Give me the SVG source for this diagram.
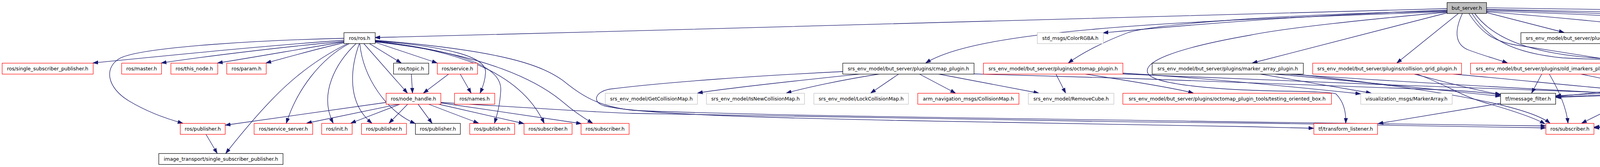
<svg xmlns="http://www.w3.org/2000/svg" width="6444" height="427" viewBox="0 0 6444 427">
<style>
rect{stroke-width:1.2}
.r{fill:#fff;stroke:#ff0000}
.b{fill:#fff;stroke:#000}
.g{fill:#fff;stroke:#bfbfbf}
.root{fill:#bfbfbf;stroke:#000}
text{font-family:"DejaVu Sans","Liberation Sans",sans-serif;font-size:12.6px;fill:#000;text-anchor:middle}
#edges path{fill:none;stroke:#191970;stroke-width:1.3;marker-end:url(#ah)}
</style>
<defs>
<marker id="ah" markerWidth="14" markerHeight="10" refX="13" refY="5" orient="auto" markerUnits="userSpaceOnUse"><path d="M0,0.5 L13,5 L0,9.5 z" fill="#191970" stroke="#191970" stroke-width="1"/></marker>
</defs>
<rect width="6444" height="427" fill="#fff"/>
<g id="edges">
<!-- from but_server.h -->
<path d="M3704,22 C2900,45 1900,72 960,96"/>
<path d="M3704,26 C3300,40 3000,68 2824,84"/>
<path d="M3704,30 C2950,55 2500,80 2370,161"/>
<path d="M3704,28 C3300,36 2960,60 2886,84 C2830,105 2770,135 2735,161"/>
<path d="M3704,33 L3206,161"/>
<path d="M3704,31 C3500,50 3300,70 3200,90 C3000,125 2920,160 2940,190 C2960,215 3100,228 3240,232 C3330,234 3400,234 3420,240 C3442,262 3446,290 3445,315"/>
<path d="M3734,34 L3576,161"/>
<path d="M3744,34 C3722,80 3725,115 3760,128 C3800,143 3835,152 3859,161"/>
<path d="M3760,34 C3790,80 3820,105 3880,115 C3980,130 4100,150 4172,161"/>
<path d="M3768,34 C3810,100 3870,135 4000,148 C4200,158 4400,158 4539,162"/>
<path d="M3775,34 C3830,110 3950,145 4150,152 C4500,157 4800,158 4958,162"/>
<path d="M3805,32 L4004,83"/>
<path d="M3805,30 C4000,45 4250,70 4342,83"/>
<path d="M3805,28 C4200,40 4550,65 4718,84"/>
<path d="M3805,25 C4300,40 4800,60 4977,84"/>
<path d="M3805,24 C4400,35 5000,55 5222,84"/>
<path d="M3805,20 C4600,30 5560,55 5690,82 C5708,110 5698,140 5683,161"/>
<!-- from ros/ros.h -->
<path d="M880,98 C700,102 360,118 305,150 C265,175 275,225 330,258 C370,282 420,302 468,315"/>
<path d="M880,103 C700,115 450,140 238,161"/>
<path d="M880,106 C720,120 520,145 413,161"/>
<path d="M881,107 C770,125 630,150 557,161"/>
<path d="M882,109 C810,125 730,148 681,161"/>
<path d="M891,111 C770,170 690,250 578,392"/>
<path d="M895,111 C820,150 760,230 733,315"/>
<path d="M912,111 C860,160 815,240 853,315"/>
<path d="M920,111 C895,180 890,265 952,315"/>
<path d="M921,111 C930,200 990,285 1063,316"/>
<path d="M931,111 L1043,238"/>
<path d="M945,111 L1027,161"/>
<path d="M960,108 L1119,161"/>
<path d="M960,104 C1150,120 1245,145 1243,185 C1242,208 1235,225 1229,238"/>
<path d="M960,105 C1160,128 1285,165 1282,230 C1280,270 1272,295 1266,315"/>
<path d="M960,106 C1200,130 1340,200 1393,315"/>
<path d="M960,107 C1250,138 1380,210 1440,260 C1475,290 1500,305 1517,315"/>
<path d="M960,103 C1300,130 1390,170 1440,205 C1490,245 1530,272 1620,282 C1900,295 2600,303 3200,312 C3600,317 3850,320 3957,322"/>
<!-- ros internals -->
<path d="M1053,189 L1056,238"/>
<path d="M1149,189 L1084,238"/>
<path d="M1178,189 L1206,238"/>
<path d="M988,262 L577,320"/>
<path d="M1022,266 L785,315"/>
<path d="M1025,266 L898,315"/>
<path d="M1044,266 L996,315"/>
<path d="M1070,266 L1106,315"/>
<path d="M1096,266 L1225,315"/>
<path d="M1121,266 L1341,316"/>
<path d="M1128,263 L1488,316"/>
<path d="M1128,262 C1350,275 1500,286 1620,290 C2000,300 2700,310 3300,316 C3600,320 3850,325 3957,327"/>
<path d="M527,343 L556,392"/>
<!-- cmap_plugin -->
<path d="M2157,183 C1950,193 1700,210 1560,228 C1520,236 1518,262 1545,270 C1620,290 1900,300 2300,308 L3200,324 C3290,326 3340,327 3363,328"/>
<path d="M2205,189 C2100,200 1860,225 1786,238"/>
<path d="M2253,189 C2150,205 2060,225 2013,238"/>
<path d="M2301,189 L2229,238"/>
<path d="M2353,189 L2446,238"/>
<path d="M2401,189 L2659,238"/>
<path d="M2493,189 C2900,200 3400,216 3700,230 C3780,234 3815,238 3841,243"/>
<!-- octomap_plugin -->
<path d="M2703,189 L2728,238"/>
<path d="M2776,189 C2900,208 3010,226 3055,238"/>
<path d="M2874,187 C3100,200 3350,226 3483,240"/>
<path d="M2870,189 C3300,208 3900,230 4303,244"/>
<!-- marker_array_plugin -->
<path d="M3224,189 L3510,238"/>
<path d="M3290,189 C3600,210 4000,232 4303,247"/>
<path d="M3310,189 C3600,220 3900,262 3968,315"/>
<path d="M3260,189 C3500,210 3700,232 3841,246"/>
<!-- collision_grid_plugin -->
<path d="M3619,189 C3700,210 3790,234 3841,241"/>
<path d="M3626,189 C3700,215 3740,245 3800,262 C3880,285 3935,305 3955,317"/>
<path d="M3715,189 C3900,205 4100,228 4303,242"/>
<!-- old_imarkers -->
<path d="M3947,189 L3921,238"/>
<path d="M3966,189 C3990,230 4010,275 4014,315"/>
<path d="M4045,189 C4150,210 4250,235 4303,245"/>
<path d="M3842,264 L3528,316"/>
<!-- objtree -->
<path d="M4361,189 L4420,238"/>
<path d="M4312,189 C4220,230 4110,285 4049,315"/>
<!-- collision_object -->
<path d="M4682,189 C4610,210 4540,226 4506,238"/>
<path d="M4720,189 C4660,240 4560,280 4400,297 C4250,312 4150,321 4081,325"/>
<path d="M4585,189 C4300,212 4100,236 3983,247"/>
<!-- imarkers -->
<path d="M5010,189 C4800,214 4650,236 4588,244"/>
<path d="M5068,189 C4800,240 4500,292 4320,306 C4200,316 4130,323 4081,327"/>
<path d="M5040,189 C4700,205 4300,226 3983,245"/>
<!-- loops from example / limited -->
<path d="M4248,111 C4500,118 5000,132 5295,150 C5340,160 5340,188 5300,197 C5100,216 4800,233 4588,246"/>
<path d="M4694,112 C4900,120 5200,133 5345,152 C5385,162 5385,186 5345,197 C5000,226 4400,233 3983,249"/>
<path d="M4690,114 C4900,125 5200,146 5400,157 L5488,163"/>
<!-- compressed -->
<path d="M5491,111 L5631,161"/>
<path d="M5445,111 C5430,150 5405,182 5360,193 C5000,220 4700,238 4588,247"/>
<!-- point_cloud_plugin -->
<path d="M5569,189 C5450,205 5300,226 5220,238"/>
<path d="M5624,189 L5459,238"/>
<path d="M5674,189 L5674,238"/>
<path d="M5737,189 L5947,238"/>
<path d="M5793,189 L6212,239"/>
<path d="M5488,183 C5200,196 4800,226 4588,245"/>
<path d="M5488,186 C5000,205 4400,228 3983,248"/>
<path d="M5488,189 C5100,232 4600,296 4081,327"/>
</g>
<!-- row 0 -->
<g id="n_but_server"><rect class="root" x="3704.5" y="6.5" width="101" height="28"/><text x="3755" y="25">but_server.h</text></g>
<!-- row 1 -->
<g id="n_ros"><rect class="b" x="880.5" y="83.5" width="80" height="28"/><text x="920.5" y="102">ros/ros.h</text></g>
<g id="n_colorrgba"><rect class="g" x="2655.5" y="83.5" width="169" height="28"/><text x="2740" y="102">std_msgs/ColorRGBA.h</text></g>
<g id="n_example"><rect class="b" x="3893.5" y="83.5" width="355" height="28"/><text x="4071" y="102">srs_env_model/but_server/plugins/example_plugin.h</text></g>
<g id="n_limited"><rect class="r" x="4271.5" y="83.5" width="423" height="28"/><text x="4483" y="102">srs_env_model/but_server/plugins/limited_point_cloud_plugin.h</text></g>
<g id="n_pause"><rect class="g" x="4716.5" y="83.5" width="236" height="28"/><text x="4834.5" y="102">srs_env_model/ButServerPause.h</text></g>
<g id="n_useinput"><rect class="g" x="4975.5" y="83.5" width="223" height="28"/><text x="5087" y="102">srs_env_model/UseInputColor.h</text></g>
<g id="n_compressed"><rect class="r" x="5221.5" y="83.5" width="459" height="28"/><text x="5451" y="102">srs_env_model/but_server/plugins/compressed_point_cloud_plugin.h</text></g>
<!-- row 2 -->
<g id="n_ssp"><rect class="r" x="5.5" y="161.5" width="233" height="28"/><text x="122" y="180">ros/single_subscriber_publisher.h</text></g>
<g id="n_master"><rect class="r" x="311.5" y="161.5" width="102" height="28"/><text x="362.5" y="180">ros/master.h</text></g>
<g id="n_this_node"><rect class="r" x="437.5" y="161.5" width="120" height="28"/><text x="497.5" y="180">ros/this_node.h</text></g>
<g id="n_param"><rect class="r" x="580.5" y="161.5" width="101" height="28"/><text x="631" y="180">ros/param.h</text></g>
<g id="n_topic"><rect class="b" x="1007.5" y="161.5" width="90" height="28"/><text x="1052.5" y="180">ros/topic.h</text></g>
<g id="n_service"><rect class="r" x="1119.5" y="161.5" width="103" height="28"/><text x="1171" y="180">ros/service.h</text></g>
<g id="n_cmap"><rect class="b" x="2157.5" y="161.5" width="336" height="28"/><text x="2325.5" y="180">srs_env_model/but_server/plugins/cmap_plugin.h</text></g>
<g id="n_octomap"><rect class="r" x="2517.5" y="161.5" width="357" height="28"/><text x="2696" y="180">srs_env_model/but_server/plugins/octomap_plugin.h</text></g>
<g id="n_marker_array"><rect class="b" x="2949.5" y="161.5" width="387" height="28"/><text x="3143" y="180">srs_env_model/but_server/plugins/marker_array_plugin.h</text></g>
<g id="n_collision_grid"><rect class="r" x="3360.5" y="161.5" width="381" height="28"/><text x="3551" y="180">srs_env_model/but_server/plugins/collision_grid_plugin.h</text></g>
<g id="n_old_imarkers"><rect class="r" x="3764.5" y="161.5" width="384" height="28"/><text x="3956.5" y="180">srs_env_model/but_server/plugins/old_imarkers_plugin.h</text></g>
<g id="n_objtree"><rect class="r" x="4169.5" y="161.5" width="346" height="28"/><text x="4342.5" y="180">srs_env_model/but_server/plugins/objtree_plugin.h</text></g>
<g id="n_collision_object"><rect class="r" x="4538.5" y="161.5" width="396" height="28"/><text x="4736.5" y="180">srs_env_model/but_server/plugins/collision_object_plugin.h</text></g>
<g id="n_imarkers"><rect class="r" x="4957.5" y="161.5" width="355" height="28"/><text x="5135" y="180">srs_env_model/but_server/plugins/imarkers_plugin.h</text></g>
<g id="n_point_cloud"><rect class="b" x="5488.5" y="161.5" width="374" height="28"/><text x="5675.5" y="180">srs_env_model/but_server/plugins/point_cloud_plugin.h</text></g>
<!-- row 3 -->
<g id="n_node_handle"><rect class="r" x="988.5" y="238.5" width="140" height="28"/><text x="1058.5" y="257">ros/node_handle.h</text></g>
<g id="n_names"><rect class="r" x="1163.5" y="238.5" width="103" height="28"/><text x="1215" y="257">ros/names.h</text></g>
<g id="n_getcm"><rect class="g" x="1549.5" y="238.5" width="236" height="28"/><text x="1667.5" y="257">srs_env_model/GetCollisionMap.h</text></g>
<g id="n_isnewcm"><rect class="g" x="1808.5" y="238.5" width="251" height="28"/><text x="1934" y="257">srs_env_model/IsNewCollisionMap.h</text></g>
<g id="n_lockcm"><rect class="g" x="2083.5" y="238.5" width="242" height="28"/><text x="2204.5" y="257">srs_env_model/LockCollisionMap.h</text></g>
<g id="n_armcm"><rect class="r" x="2349.5" y="238.5" width="259" height="28"/><text x="2479" y="257">arm_navigation_msgs/CollisionMap.h</text></g>
<g id="n_removecube"><rect class="g" x="2632.5" y="238.5" width="219" height="28"/><text x="2742" y="257">srs_env_model/RemoveCube.h</text></g>
<g id="n_tob"><rect class="r" x="2874.5" y="238.5" width="534" height="28"/><text x="3141.5" y="257">srs_env_model/but_server/plugins/octomap_plugin_tools/testing_oriented_box.h</text></g>
<g id="n_vis_marker"><rect class="g" x="3483.5" y="238.5" width="234" height="28"/><text x="3600.5" y="257">visualization_msgs/MarkerArray.h</text></g>
<g id="n_msg_filter"><rect class="b" x="3841.5" y="238.5" width="141" height="28"/><text x="3912" y="257">tf/message_filter.h</text></g>
<g id="n_server_tools"><rect class="r" x="4303.5" y="238.5" width="284" height="28"/><text x="4445.5" y="257">srs_env_model/but_server/server_tools.h</text></g>
<g id="n_pcl"><rect class="r" x="4940.5" y="238.5" width="341" height="28"/><text x="5111" y="257">pcl/segmentation/extract_polygonal_prism_data.h</text></g>
<g id="n_pc2"><rect class="g" x="5305.5" y="238.5" width="198" height="28"/><text x="5404.5" y="257">sensor_msgs/PointCloud2.h</text></g>
<g id="n_exact"><rect class="r" x="5526.5" y="238.5" width="297" height="28"/><text x="5675" y="257">message_filters/sync_policies/exact_time.h</text></g>
<g id="n_approx"><rect class="r" x="5846.5" y="238.5" width="343" height="28"/><text x="6018" y="257">message_filters/sync_policies/approximate_time.h</text></g>
<g id="n_pass"><rect class="r" x="6212.5" y="238.5" width="227" height="28"/><text x="6326" y="257">message_filters/pass_through.h</text></g>
<!-- row 4 -->
<g id="n_pub1"><rect class="r" x="461.5" y="315.5" width="115" height="28"/><text x="519" y="334">ros/publisher.h</text></g>
<g id="n_service_server"><rect class="r" x="650.5" y="315.5" width="150" height="28"/><text x="725.5" y="334">ros/service_server.h</text></g>
<g id="n_init"><rect class="r" x="823.5" y="315.5" width="78" height="28"/><text x="862.5" y="334">ros/init.h</text></g>
<g id="n_pub2"><rect class="r" x="925.5" y="315.5" width="115" height="28"/><text x="983" y="334">ros/publisher.h</text></g>
<g id="n_pub3"><rect class="b" x="1063.5" y="315.5" width="115" height="28"/><text x="1121" y="334">ros/publisher.h</text></g>
<g id="n_pub4"><rect class="r" x="1202.5" y="315.5" width="115" height="28"/><text x="1260" y="334">ros/publisher.h</text></g>
<g id="n_sub1"><rect class="r" x="1341.5" y="315.5" width="123" height="28"/><text x="1403" y="334">ros/subscriber.h</text></g>
<g id="n_sub2"><rect class="r" x="1487.5" y="315.5" width="123" height="28"/><text x="1549" y="334">ros/subscriber.h</text></g>
<g id="n_tf_listener"><rect class="r" x="3363.5" y="315.5" width="163" height="28"/><text x="3445" y="334">tf/transform_listener.h</text></g>
<g id="n_sub3"><rect class="r" x="3957.5" y="315.5" width="123" height="28"/><text x="4019" y="334">ros/subscriber.h</text></g>
<!-- row 5 -->
<g id="n_it_ssp"><rect class="b" x="406.5" y="392.5" width="318" height="28"/><text x="565.5" y="411">image_transport/single_subscriber_publisher.h</text></g>
</svg>
